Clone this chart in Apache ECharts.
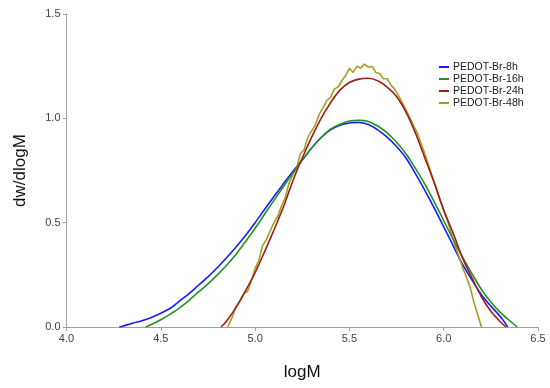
<!DOCTYPE html>
<html>
<head>
<meta charset="utf-8">
<script src="https://cdn.jsdelivr.net/npm/echarts@6/dist/echarts.min.js"></script>
<style>html,body{margin:0;padding:0;background:#fff;}#c{width:550px;height:388px;}</style>
</head>
<body>
<div id="c"></div>
<script>
var seriesNames = ['PEDOT-Br-8h', 'PEDOT-Br-16h', 'PEDOT-Br-24h', 'PEDOT-Br-48h'];
var xTicks = ['4.0', '4.5', '5.0', '5.5', '6.0', '6.5'];
var yTicks = ['0.0', '0.5', '1.0', '1.5'];

var x8h = [4.28,4.30,4.35,4.40,4.45,4.50,4.55,4.60,4.65,4.70,4.75,4.80,4.85,4.90,4.95,5.00,5.05,5.10,5.15,5.20,5.25,5.30,5.35,5.40,5.45,5.50,5.55,5.60,5.65,5.70,5.75,5.80,5.85,5.90,5.95,6.00,6.05,6.10,6.15,6.20,6.25,6.30,6.34];
var y8h = [0,0.005,0.018,0.03,0.046,0.066,0.09,0.125,0.16,0.2,0.24,0.285,0.333,0.385,0.44,0.50,0.563,0.625,0.686,0.745,0.80,0.858,0.908,0.945,0.967,0.978,0.98,0.97,0.945,0.91,0.865,0.81,0.735,0.655,0.57,0.48,0.39,0.30,0.225,0.155,0.10,0.05,0];

var x16h = [4.42,4.45,4.50,4.55,4.60,4.65,4.70,4.75,4.80,4.85,4.90,4.95,5.00,5.05,5.10,5.15,5.20,5.25,5.30,5.35,5.40,5.45,5.50,5.55,5.60,5.65,5.70,5.75,5.80,5.85,5.90,5.95,6.00,6.05,6.10,6.15,6.20,6.25,6.30,6.35,6.39];
var y16h = [0,0.012,0.035,0.062,0.092,0.128,0.168,0.207,0.25,0.297,0.35,0.41,0.473,0.54,0.607,0.673,0.738,0.80,0.858,0.908,0.948,0.972,0.987,0.99,0.985,0.963,0.93,0.885,0.83,0.76,0.685,0.60,0.51,0.42,0.335,0.255,0.18,0.12,0.07,0.03,0];

var x24h = [4.82,4.85,4.90,4.95,5.00,5.05,5.10,5.15,5.20,5.25,5.30,5.35,5.40,5.45,5.50,5.55,5.60,5.65,5.70,5.75,5.80,5.85,5.90,5.95,6.00,6.05,6.10,6.15,6.20,6.25,6.30,6.33];
var y24h = [0,0.03,0.095,0.175,0.26,0.36,0.465,0.575,0.70,0.81,0.91,1.0,1.075,1.135,1.172,1.188,1.192,1.18,1.15,1.105,1.03,0.93,0.81,0.69,0.56,0.45,0.33,0.235,0.145,0.075,0.025,0];

var x48h = [4.855,4.88,4.90,4.92,4.94,4.96,4.98,5.00,5.02,5.04,5.06,5.08,5.10,5.12,5.14,5.16,5.18,5.20,5.22,5.24,5.26,5.28,5.30,5.32,5.34,5.36,5.38,5.40,5.42,5.44,5.46,5.48,5.50,5.52,5.54,5.56,5.58,5.60,5.62,5.64,5.66,5.68,5.70,5.72,5.74,5.76,5.78,5.80,5.82,5.84,5.86,5.88,5.90,5.92,5.94,5.96,5.98,6.00,6.02,6.04,6.06,6.08,6.10,6.12,6.14,6.16,6.18,6.20];
var y48h = [0,0.05,0.10,0.125,0.16,0.17,0.22,0.28,0.32,0.39,0.42,0.46,0.50,0.53,0.58,0.62,0.69,0.73,0.76,0.83,0.85,0.91,0.94,0.97,1.02,1.05,1.085,1.10,1.14,1.15,1.18,1.205,1.24,1.22,1.25,1.24,1.26,1.245,1.25,1.22,1.215,1.19,1.19,1.16,1.14,1.11,1.075,1.04,1.005,0.965,0.93,0.88,0.83,0.775,0.72,0.67,0.61,0.56,0.51,0.45,0.39,0.34,0.285,0.24,0.19,0.12,0.06,0];

var colors = ['#1a1aff', '#1f951f', '#9e1c1c', '#a39f1f'];

function pairs(xs, ys) { return xs.map(function (x, i) { return [x, ys[i]]; }); }

var chart = echarts.init(document.getElementById('c'), null, {renderer: 'canvas'});
var font = 'Liberation Sans, Arial, sans-serif';
var dataSets = [pairs(x8h, y8h), pairs(x16h, y16h), pairs(x24h, y24h), pairs(x48h, y48h)];
chart.setOption({
  animation: false,
  backgroundColor: '#ffffff',
  color: colors,
  grid: {left: 66.5, right: 12, top: 14, bottom: 61},
  legend: {
    orient: 'vertical', left: 439, top: 61.5, itemGap: 1, itemWidth: 10, itemHeight: 2,
    icon: 'rect', padding: 0,
    textStyle: {fontFamily: font, fontSize: 10.5, color: '#202020', padding: [0, 0, 0, -1]},
    data: seriesNames
  },
  xAxis: {
    type: 'value', min: 4, max: 6.5, interval: 0.5,
    name: 'logM', nameLocation: 'middle', nameGap: 37,
    nameTextStyle: {fontFamily: font, fontSize: 17, color: '#111'},
    axisLine: {lineStyle: {color: '#a0a0a0', width: 1}},
    axisTick: {show: true, length: 4, lineStyle: {color: '#a0a0a0'}},
    axisLabel: {fontFamily: font, fontSize: 11, color: '#404040', margin: 6,
      formatter: function (v) { var i = Math.round((v - 4) / 0.5); return xTicks[i] !== undefined ? xTicks[i] : ''; }},
    splitLine: {show: false}
  },
  yAxis: {
    type: 'value', min: 0, max: 1.5, interval: 0.5,
    name: 'dw/dlogM', nameLocation: 'middle', nameGap: 38,
    nameTextStyle: {fontFamily: font, fontSize: 17, color: '#111'},
    axisLine: {show: true, lineStyle: {color: '#a0a0a0', width: 1}},
    axisTick: {show: true, length: 4, lineStyle: {color: '#a0a0a0'}},
    axisLabel: {fontFamily: font, fontSize: 11, color: '#404040', margin: 6,
      formatter: function (v) { var i = Math.round(v / 0.5); return yTicks[i] !== undefined ? yTicks[i] : ''; }},
    splitLine: {show: false}
  },
  series: seriesNames.map(function (n, i) {
    return {
      name: n, type: 'line', data: dataSets[i], showSymbol: false,
      smooth: i === 3 ? false : 0.3,
      lineStyle: {width: 1.6, color: colors[i]}, z: 2 + (i === 3 ? 0 : i)
    };
  })
});
</script>
</body>
</html>
